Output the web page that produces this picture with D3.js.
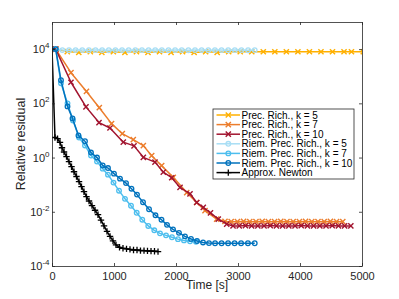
<!DOCTYPE html>
<html><head><meta charset="utf-8">
<script src="https://cdn.jsdelivr.net/npm/d3@7"></script>
<style>body{margin:0;background:#fff}svg{display:block}text{font-family:"Liberation Sans",Arial,sans-serif}</style>
</head><body>
<svg id="c" width="399" height="299"></svg>
<script>
// ---- data ----
const seriesNames = ["Prec. Rich., k = 5","Prec. Rich., k = 7","Prec. Rich., k = 10","Riem. Prec. Rich., k = 5","Riem. Prec. Rich., k = 7","Riem. Prec. Rich., k = 10","Approx. Newton"];
const seriesColors = ["#ffb000","#ec7d2c","#a2142f","#a8def5","#4dbeee","#0072bd","#000000"];
const seriesMarkers = ["x","x","x","o","o","o","+"];

const tPR5 = [60,246,432,618,804,990,1176,1362,1548,1734,1920,2106,2292,2478,2664,2850,3036,3222,3408,3594,3780,3966,4152,4338,4524,4710,4830,5020];
const vPR5 = [1e4,8.1e3,7.5e3,8.1e3,7.6e3,8.0e3,7.5e3,8.1e3,7.6e3,8.0e3,7.6e3,8.0e3,7.5e3,8.0e3,7.6e3,8.0e3,8.0e3,8.0e3,8.0e3,8.0e3,8.0e3,8.0e3,8.0e3,8.0e3,8.0e3,8.0e3,8.0e3,8.0e3];

const tPR7 = [60,306,556,763,960,1134,1311,1473,1608,1769,1956,2173,2334,2468,2656,2790,2890,2990,3090,3190,3290,3390,3490,3590,3690,3790,3890,3990,4090,4190,4290,4390,4490,4590,4690];
const vPR7 = [1e4,1350,275,69,17.8,7.6,4.6,2.75,1.17,0.50,0.186,0.051,0.022,0.011,0.0054,0.0044,0.0043,0.0043,0.0044,0.0043,0.0043,0.0044,0.0043,0.0043,0.0044,0.0043,0.0043,0.0043,0.0044,0.0043,0.0043,0.0043,0.0044,0.0043,0.0043];

const tPR10 = [60,306,548,758,935,1150,1323,1473,1661,1795,1931,2065,2226,2334,2440,2556,2682,2818,2920,3020,3120,3220,3320,3420,3520,3620,3720,3820,3920,4020,4120,4220,4320,4420,4520,4620,4720,4820];
const vPR10 = [1e4,600,74,19.5,12.3,3.7,2.7,1.02,0.68,0.29,0.18,0.079,0.046,0.022,0.0145,0.0091,0.0054,0.0035,0.0030,0.0030,0.0031,0.0030,0.0030,0.0030,0.0031,0.0030,0.0030,0.0030,0.0030,0.0031,0.0030,0.0030,0.0030,0.0030,0.0031,0.0030,0.0030,0.0030];

const tRPR5 = [60,167,274,381,488,595,702,809,916,1023,1130,1237,1344,1451,1558,1665,1772,1879,1986,2093,2200,2307,2414,2521,2628,2735,2842,2949,3056,3163,3270];
const vRPR5 = [1e4,9.2e3,9.1e3,9.2e3,9.2e3,9.1e3,9.2e3,9.2e3,9.1e3,9.2e3,9.2e3,9.1e3,9.2e3,9.2e3,9.1e3,9.2e3,9.2e3,9.1e3,9.2e3,9.2e3,9.1e3,9.2e3,9.2e3,9.1e3,9.2e3,9.2e3,9.1e3,9.2e3,9.2e3,9.1e3,9.2e3];

const tRPR7 = [60,145,250,339,436,532,629,726,818,903,992,1081,1177,1274,1366,1456,1553,1650,1742,1839,1935,2032,2129,2226,2323];
const vRPR7 = [1e4,550,100,23.4,5.5,2.8,1.19,0.71,0.39,0.234,0.119,0.060,0.030,0.0167,0.0092,0.0051,0.0030,0.00207,0.0016,0.00135,0.00115,0.00098,0.00088,0.00082,0.00078];

const tRPR10 = [60,145,250,331,427,532,629,726,818,903,1000,1097,1194,1282,1371,1468,1565,1669,1766,1855,1952,2048,2145,2242,2339,2436,2532,2630,2735,2840,2945,3050,3160,3270];
const vRPR10 = [1e4,710,77,27.8,6.5,4.0,1.53,1.0,0.51,0.41,0.255,0.167,0.114,0.071,0.043,0.0225,0.0124,0.0074,0.0051,0.0033,0.00225,0.00167,0.00124,0.00100,0.00084,0.00074,0.00070,0.00069,0.00069,0.00069,0.00069,0.00069,0.00069,0.00069];

const tAN = [0,48,89,129,161,194,234,274,315,355,395,436,476,516,556,597,645,694,742,790,839,887,936,984,1032,1089,1145,1202,1258,1315,1371,1427,1484,1540,1597,1653,1710];
const vAN = [1e4,5.5,5.0,3.6,2.3,1.6,1.09,0.71,0.46,0.30,0.20,0.13,0.085,0.055,0.036,0.025,0.017,0.0114,0.0078,0.0049,0.0030,0.0019,0.00124,0.00085,0.00060,0.00049,0.00045,0.00043,0.00041,0.00039,0.00039,0.00037,0.00037,0.00036,0.000355,0.00035,0.00034];

const xTicks = [0,1000,2000,3000,4000,5000];
const yTickExps = [-4,-2,0,2,4];
const xLabel = "Time [s]";
const yLabel = "Relative residual";

const seriesT = [tPR5,tPR7,tPR10,tRPR5,tRPR7,tRPR10,tAN];
const seriesV = [vPR5,vPR7,vPR10,vRPR5,vRPR7,vRPR10,vAN];

// ---- chart ----
const svg = d3.select("#c");
const L=52, R=362, T=22, B=266;
const x = d3.scaleLinear().domain([0,5000]).range([L,R]);
const y = d3.scaleLog().domain([1e-4,1e5]).range([B,T]);
const axisCol = "#262626";

svg.append("defs").append("clipPath").attr("id","clip")
  .append("rect").attr("x",L).attr("y",T).attr("width",R-L).attr("height",B-T);

const plot = svg.append("g").attr("clip-path","url(#clip)");

function drawMarker(g, type, col, cx, cy){
  if(type==="x"){
    const s=2.6;
    g.append("path").attr("d",`M${cx-s},${cy-s}L${cx+s},${cy+s}M${cx-s},${cy+s}L${cx+s},${cy-s}`)
      .attr("stroke",col).attr("stroke-width",1.4).attr("fill","none");
  } else if(type==="+"){
    const s=3.2;
    g.append("path").attr("d",`M${cx-s},${cy}L${cx+s},${cy}M${cx},${cy-s}L${cx},${cy+s}`)
      .attr("stroke",col).attr("stroke-width",1.3).attr("fill","none");
  } else {
    g.append("circle").attr("cx",cx).attr("cy",cy).attr("r",2.3)
      .attr("stroke",col).attr("stroke-width",1.3).attr("fill","none");
  }
}

const line = d3.line().x(d=>x(d[0])).y(d=>y(d[1]));
seriesNames.forEach((n,i)=>{
  const pts = seriesT[i].map((t,j)=>[t,seriesV[i][j]]);
  const g = plot.append("g");
  g.append("path").datum(pts).attr("d",line).attr("fill","none")
    .attr("stroke",seriesColors[i]).attr("stroke-width",1.5).attr("stroke-linejoin","round");
  pts.forEach(p=>drawMarker(g, seriesMarkers[i], seriesColors[i], x(p[0]), y(p[1])));
});

// axes box
const yTickVals = yTickExps.map(e=>Math.pow(10,e));
const gx = svg.append("g").attr("transform",`translate(0,${B})`)
  .call(d3.axisBottom(x).tickValues(xTicks).tickSizeInner(-3).tickSizeOuter(0).tickPadding(6).tickFormat(d3.format("d")));
const gxt = svg.append("g").attr("transform",`translate(0,${T})`)
  .call(d3.axisTop(x).tickValues(xTicks).tickSizeInner(-3).tickSizeOuter(0).tickFormat(""));
const gy = svg.append("g").attr("transform",`translate(${L},0)`)
  .call(d3.axisLeft(y).tickValues(yTickVals).tickSizeInner(-3).tickSizeOuter(0).tickFormat(""));
const gyr = svg.append("g").attr("transform",`translate(${R},0)`)
  .call(d3.axisRight(y).tickValues(yTickVals).tickSizeInner(-3).tickSizeOuter(0).tickFormat(""));
[gx,gxt,gy,gyr].forEach(g=>{
  g.select(".domain").attr("stroke",axisCol).attr("stroke-width",0.8);
  g.selectAll(".tick line").attr("stroke",axisCol).attr("stroke-width",0.8);
});
gx.selectAll(".tick text").attr("font-size",11).attr("fill",axisCol)
  .attr("font-family","Liberation Sans, Arial, sans-serif");

// y tick labels with superscript
yTickExps.forEach(e=>{
  const t = svg.append("text").attr("x",49.5).attr("y",y(Math.pow(10,e))+4)
    .attr("text-anchor","end").attr("fill",axisCol).attr("font-size",11);
  t.append("tspan").text("10");
  t.append("tspan").attr("dy",-5).attr("font-size",8).text(String(e));
});

// axis labels
svg.append("text").attr("x",(L+R)/2).attr("y",288.5).attr("text-anchor","middle")
  .attr("font-size",12).attr("fill",axisCol).text(xLabel);
svg.append("text").attr("transform",`translate(24.5,${(T+B)/2}) rotate(-90)`)
  .attr("text-anchor","middle").attr("font-size",12.5).attr("fill",axisCol).text(yLabel);

// legend
const lg = svg.append("g");
lg.append("rect").attr("x",213).attr("y",109).attr("width",141).attr("height",70)
  .attr("fill","#fff").attr("stroke",axisCol).attr("stroke-width",0.8);
seriesNames.forEach((n,i)=>{
  const cy = 115 + i*9.6;
  lg.append("line").attr("x1",216.5).attr("x2",240).attr("y1",cy).attr("y2",cy)
    .attr("stroke",seriesColors[i]).attr("stroke-width",1.5);
  drawMarker(lg, seriesMarkers[i], seriesColors[i], 228.3, cy);
  lg.append("text").attr("x",241.5).attr("y",cy+3.6).attr("font-size",10).attr("fill","#000").text(n);
});
</script>
</body></html>
